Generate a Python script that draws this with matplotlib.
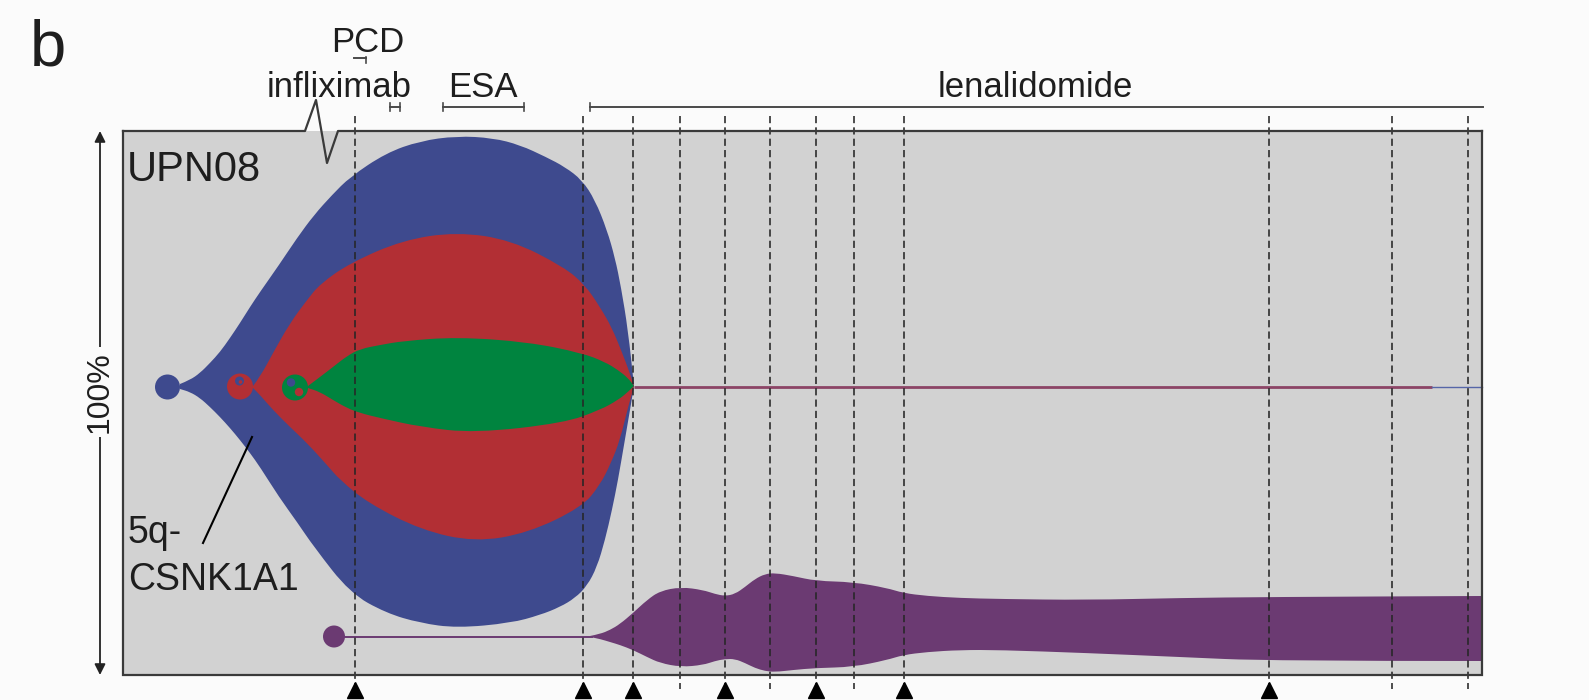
import matplotlib
matplotlib.use("Agg")
import matplotlib.pyplot as plt
from matplotlib.path import Path
from matplotlib.patches import PathPatch, Rectangle, Circle

plt.rcParams['font.family'] = ['Liberation Sans', 'DejaVu Sans']

# ---------------- data (image coordinates: x = time axis, y = position) ----------------
# Founder clone (blue)
blue_top_x = [180, 190, 200, 210, 220, 230, 240, 250, 260, 279, 297, 314, 332, 350, 386, 420, 457, 493, 520, 546, 565, 582, 595, 607, 615, 621, 628, 634]
blue_top_y = [384, 380, 373, 363, 352, 338, 323, 307, 292, 265, 238, 215, 195, 177, 153, 141, 136, 138, 145, 157, 167, 180, 200, 230, 258, 287, 330, 386]
blue_bot_x = [180, 190, 200, 210, 220, 230, 240, 250, 260, 279, 297, 314, 350, 386, 420, 457, 511, 540, 560, 575, 587, 597, 605, 612, 618, 624, 630, 634]
blue_bot_y = [389, 392, 398, 407, 417, 428, 440, 453, 467, 497, 522, 547, 593, 613, 623, 628, 623, 615, 607, 598, 586, 567, 540, 510, 480, 445, 410, 386]
# Subclone 1 (red)
red_top_x = [253, 260, 273, 290, 307, 320, 350, 403, 457, 511, 564, 585, 600, 612, 621, 628, 634]
red_top_y = [386, 377, 353, 323, 300, 284, 263, 240, 232, 240, 267, 285, 307, 328, 350, 368, 386]
red_bot_x = [253, 260, 273, 290, 307, 327, 340, 368, 421, 475, 528, 582, 600, 611, 620, 628, 634]
red_bot_y = [388, 395, 410, 427, 443, 465, 480, 503, 530, 542, 533, 507, 485, 463, 440, 407, 386]
# Subclone 2 (green)
green_top_x = [308, 320, 333, 347, 360, 380, 403, 457, 528, 582, 605, 618, 628, 634]
green_top_y = [386, 377, 367, 356, 349, 345, 341, 337, 342, 353, 362, 370, 378, 386]
green_bot_x = [308, 320, 333, 347, 360, 380, 421, 475, 564, 600, 618, 628, 634]
green_bot_y = [388, 392, 400, 408, 413, 418, 427, 433, 423, 410, 400, 392, 386]
# Emerging clone (purple)
purple_x = [590, 600, 610, 620, 633, 647, 660, 681, 703, 715, 725, 735, 745, 755, 765, 775, 793, 816, 853, 887, 903, 927, 960, 1000, 1086, 1180, 1270, 1482]
purple_top = [636, 634, 630, 624, 613, 600, 591, 587, 590, 594, 596, 594, 587, 579, 574, 573, 576, 581, 582, 588, 593, 596, 598, 599, 600, 598, 597, 596]
purple_bot = [637, 639, 642, 645, 650, 657, 663, 667, 665, 661, 659, 659, 663, 668, 671, 672, 670, 668, 667, 660, 655, 652, 650, 650, 653, 657, 661, 661]

# sampling time points (dashed lines) and sequenced samples (triangles)
timepoints = [355, 583, 633, 680, 725, 770, 816, 854, 904, 1269, 1392, 1468]
sequenced = [355, 583, 633, 725, 816, 904, 1269]

# treatments: label, start, end
treatments = [("PCD", 354, 366), ("infliximab", 390, 400), ("ESA", 443, 524), ("lenalidomide", 590, 1483)]

# ---------------- styles ----------------
BG = '#fbfbfb'
GRAY = '#d2d2d2'
BLUE = '#3e4a8e'
RED = '#b22f34'
GREEN = '#00843f'
PURPLE = '#6b3a72'
MAUVE = '#8c4466'
INK = '#1e1e1e'
EDGE = '#3a3a3a'

W, H = 1589, 700
fig = plt.figure(figsize=(W / 100, H / 100), dpi=100, facecolor=BG)
ax = fig.add_axes([0, 0, 1, 1])
ax.set_xlim(0, W)
ax.set_ylim(H, 0)
ax.axis('off')

BOX_L, BOX_R, BOX_T, BOX_B = 123, 1482, 131, 675
CY = 386.5


def curve(pts):
    v, c = [], []
    for i in range(1, len(pts) - 1):
        mid = ((pts[i][0] + pts[i + 1][0]) / 2, (pts[i][1] + pts[i + 1][1]) / 2)
        v += [pts[i], mid]
        c += [Path.CURVE3, Path.CURVE3]
    v.append(pts[-1])
    c.append(Path.LINETO)
    return v, c


def shape(tx, ty, bx, by, color, z):
    top = list(zip(tx, ty))
    bot = list(zip(bx, by))[::-1]
    verts, codes = [top[0]], [Path.MOVETO]
    v, c = curve(top)
    verts += v; codes += c
    verts.append(bot[0]); codes.append(Path.LINETO)
    v, c = curve(bot)
    verts += v; codes += c
    verts.append(top[0]); codes.append(Path.CLOSEPOLY)
    ax.add_patch(PathPatch(Path(verts, codes), facecolor=color, edgecolor='none', zorder=z))


# box background
ax.add_patch(Rectangle((BOX_L, BOX_T), BOX_R - BOX_L, BOX_B - BOX_T, facecolor=GRAY, edgecolor='none', zorder=0))

# clones
shape(blue_top_x, blue_top_y, blue_bot_x, blue_bot_y, BLUE, 2)
ax.add_patch(Circle((167.5, CY + 0.5), 12.5, facecolor=BLUE, edgecolor='none', zorder=2))
shape(red_top_x, red_top_y, red_bot_x, red_bot_y, RED, 3)
ax.add_patch(Circle((240, CY), 13, facecolor=RED, edgecolor='none', zorder=3))
ax.add_patch(Circle((239.5, CY - 5.5), 4.5, facecolor=BLUE, edgecolor='none', zorder=3.1))
ax.add_patch(Circle((240.5, CY - 4.5), 1.8, facecolor=RED, edgecolor='none', zorder=3.2))
shape(green_top_x, green_top_y, green_bot_x, green_bot_y, GREEN, 4)
ax.add_patch(Circle((295, CY + 1), 13, facecolor=GREEN, edgecolor='none', zorder=4))
ax.add_patch(Circle((291, CY - 4), 4.2, facecolor=BLUE, edgecolor='none', zorder=4.1))
ax.add_patch(Circle((299, CY + 5.5), 4.2, facecolor=RED, edgecolor='none', zorder=4.1))

# residual trace after convergence
ax.plot([634, 1432], [CY, CY], color=MAUVE, lw=2.0, zorder=2, solid_capstyle='butt')
ax.plot([1432, BOX_R], [CY, CY], color='#5666a8', lw=1.0, zorder=2)

# purple clone
ax.plot([334, purple_x[0] + 2], [636.5, 636.5], color=PURPLE, lw=1.4, zorder=2)
ax.add_patch(Circle((334, 636.5), 11, facecolor=PURPLE, edgecolor='none', zorder=2))
shape(purple_x, purple_top, purple_x, purple_bot, PURPLE, 2)

# dashed time lines
for x in timepoints:
    ax.plot([x, x], [116, 689], color='#262626', lw=1.15, dashes=(4.5, 2.6), zorder=6)

# triangles for sequenced samples
ax.plot(sequenced, [690] * len(sequenced), ls='none', marker='^', ms=11.5, color='black', zorder=7, clip_on=False)

# box frame with axis break on top
ax.plot([BOX_L, BOX_L, BOX_R, BOX_R], [BOX_T, BOX_B, BOX_B, BOX_T], color=EDGE, lw=1.6, zorder=8, solid_joinstyle='miter')
ax.plot([BOX_L, 305, 316, 327, 338, BOX_R], [BOX_T, BOX_T, 100, 163, BOX_T, BOX_T], color=EDGE, lw=1.6, zorder=8)

# treatment labels / brackets
lab_pos = {"PCD": (368, 52), "infliximab": (339, 97), "ESA": (483, 97), "lenalidomide": (1035, 97)}
br_y = {"PCD": 58, "infliximab": 107, "ESA": 107, "lenalidomide": 107}
for name, s, e in treatments:
    lx, ly = lab_pos[name]
    ax.text(lx, ly, name, fontsize=25, color=INK, ha='center', va='baseline', zorder=9)
    y = br_y[name]
    ax.plot([s, e], [y, y], color='#4a4a4a', lw=1.4, zorder=9)
    if name == "PCD":
        ax.plot([e, e], [y - 1, y + 5], color='#4a4a4a', lw=1.2, zorder=9)
    elif name == "lenalidomide":
        ax.plot([s, s], [y - 4, y + 4], color='#4a4a4a', lw=1.2, zorder=9)
    else:
        ax.plot([s, s], [y - 4, y + 4], color='#4a4a4a', lw=1.2, zorder=9)
        ax.plot([e, e], [y - 4, y + 4], color='#4a4a4a', lw=1.2, zorder=9)

# texts
ax.text(30, 65, 'b', fontsize=47, color=INK, ha='left', va='baseline', zorder=9)
ax.text(127, 181, 'UPN08', fontsize=30, color=INK, ha='left', va='baseline', zorder=9)
ax.text(128, 543, '5q-', fontsize=27, color=INK, ha='left', va='baseline', zorder=9)
ax.text(128, 590, 'CSNK1A1', fontsize=27, color=INK, ha='left', va='baseline', zorder=9)
ax.plot([203, 252], [543, 437], color='black', lw=1.5, zorder=9)

# 100% arrow
ax.annotate('', xy=(100, 131), xytext=(100, 675),
            arrowprops=dict(arrowstyle='<|-|>', lw=1.3, color='#222222', mutation_scale=16,
                            shrinkA=0, shrinkB=0), zorder=9)
ax.text(100, 392, '100%', fontsize=23, color=INK, rotation=90, ha='center', va='center', zorder=10,
        bbox=dict(facecolor=BG, edgecolor='none', pad=3))

fig.savefig('out.png', dpi=100, facecolor=BG)
